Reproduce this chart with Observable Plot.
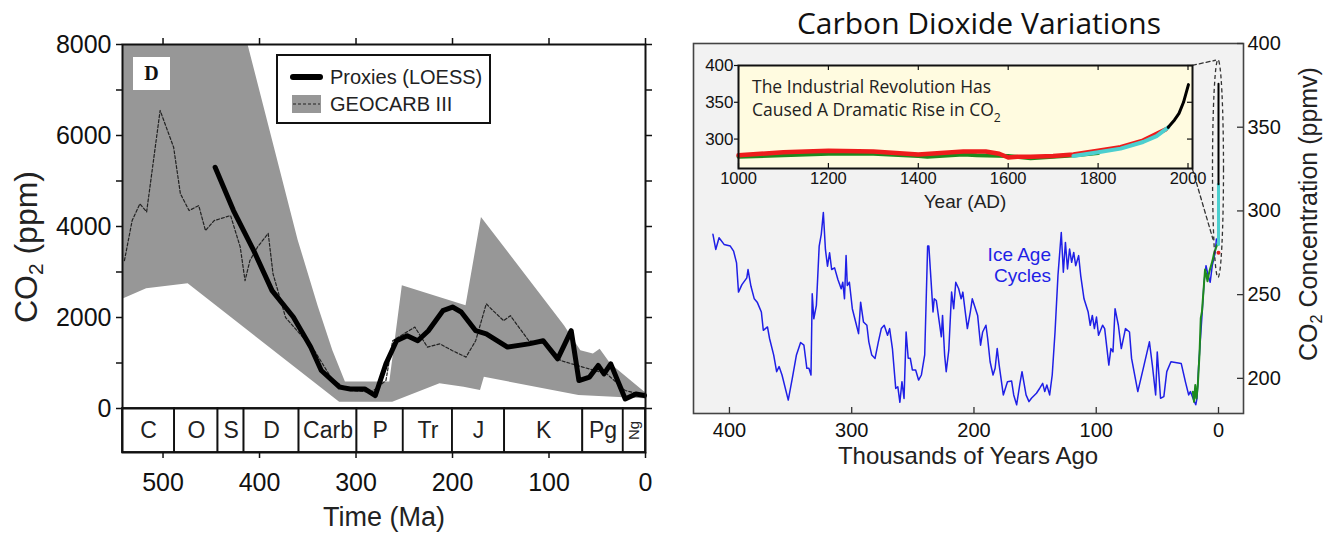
<!DOCTYPE html>
<html><head><meta charset="utf-8">
<script src="https://cdn.jsdelivr.net/npm/d3@7"></script>
<script src="https://cdn.jsdelivr.net/npm/@observablehq/plot@0.6"></script>
<style>
html,body{margin:0;padding:0;background:#fff;}
#page{position:relative;width:1329px;height:534px;overflow:hidden;font-family:"Liberation Sans",Arial,sans-serif;color:#111;}
.abs{position:absolute;white-space:nowrap;}
.rot{transform:translate(-50%,-50%) rotate(-90deg);}
.ctr{transform:translate(-50%,-50%);}
</style></head><body><div id="page"></div>
<script>
// ---------------- LEFT PANEL DATA (Ma, ppm) ----------------
const periodNames = ["C","O","S","D","Carb","P","Tr","J","K","Pg","Ng"];
const periodStart = [542,488,443,416,359,299,251,200,146,65,23];
const periodEnd   = [488,443,416,359,299,251,200,146,65,23,0];
const leftXTicks = [500,400,300,200,100,0];
const leftYTicks = [0,1000,2000,3000,4000,5000,6000,7000,8000];
const leftYLabels = [0,2000,4000,6000,8000];

const geocarbMa  = [540,532,524,517,503,489,482,473,463,456,447,430,420,415,410,402,391,386,373,343,324,306,284,269,262,239,226,213,200,186,176,165,158,147,140,121,102,88,65,40,21,1];
const geocarbPpm = [3250,4130,4500,4320,6550,5740,4720,4350,4460,3910,4130,4240,3550,2810,3250,3550,3850,2960,2000,1270,615,395,360,615,1490,1790,1350,1420,1270,1130,1490,2300,2150,1930,2040,1490,1420,1055,910,760,395,285];

const loessMa  = [446,427,406,387,365,347,336,317,306,291,280,269,258,247,236,225,210,200,191,176,165,143,121,106,91,77,69,58,49,43,36,21,10,1];
const loessPpm = [5300,4350,3470,2590,2010,1350,835,470,430,430,285,980,1490,1600,1490,1710,2150,2230,2120,1710,1640,1350,1420,1490,1090,1710,615,690,945,760,980,210,320,285];

// GEOCARB III error envelope, outline (upper edge left->right, lower edge right->left)
const bandMa  = [542,412,360,339,324,311,265,252,186,170,84,67,54,47,36,1,0, 0,1,69,167,171,188,213,262,317,474,517,542];
const bandPpm = [8000,8000,3700,2230,1270,580,580,2700,2260,4200,1820,1270,1200,1300,980,360,350, 200,212,285,688,395,469,542,139,139,2740,2630,2400];
const periodStripBottom = -967;

// ---------------- RIGHT PANEL DATA (kyr ago, ppmv) ----------------
const vostokKyr = [
413.5,411.2,408.5,404.4,399.3,396.6,394.2,392.6,389.8,385.8,
384.8,382.4,379.7,377.3,373.9,372.3,368.9,367.2,363.8,361.4,
359.4,357.0,351.9,348.6,345.2,341.8,339.1,336.7,335.0,333.3,
332.3,331.0,328.9,326.6,324.9,323.2,321.5,319.8,318.1,316.4,
314.0,311.3,308.6,307.3,305.9,304.6,303.6,301.9,299.5,296.1,
294.4,292.7,290.4,287.6,286.0,283.6,280.9,278.2,275.8,273.4,
270.7,269.0,266.7,264.0,262.3,260.6,258.9,257.2,255.5,253.8,
252.1,250.4,247.7,245.3,243.0,240.3,237.9,236.9,235.2,233.5,
232.5,230.8,228.4,226.7,225.7,224.0,222.7,220.6,218.3,216.6,
214.9,212.5,210.5,209.1,207.1,205.4,203.0,201.4,199.7,197.0,
194.6,192.9,190.2,188.8,186.8,184.4,182.7,181.0,179.4,176.0,
172.6,169.2,167.5,165.1,162.4,160.7,157.4,155.0,153.0,148.9,
146.2,143.8,142.1,140.4,138.1,136.0,133.7,131.3,128.6,126.9,
125.2,123.5,121.8,120.1,118.4,116.8,114.4,112.7,110.0,106.6,
104.9,103.2,101.5,99.8,98.1,94.8,93.1,89.7,88.0,86.3,
84.6,81.9,79.5,76.1,72.8,71.1,66.0,60.9,56.5,54.1,
51.4,50.1,47.4,44.7,42.3,38.9,30.5,27.1,24.4,23.0,
20.3,18.6,17.6,16.2,13.5,11.8,10.2,8.5,6.8,5.1,
2.7,1.7];
const vostokPpm = [
286,277,284,280,279,276,269,251.5,256,260,
265,255,247.5,245.5,239.6,228.7,230.7,223.8,213.9,204,
207,202,187,200,214,221.4,219.8,206,206,202,
250.5,235.6,243.6,279,286,299,277,267,275,265,
266,259,253.5,257.4,247.5,273.3,255.4,257.4,241.6,231.7,
226.7,245.5,233.7,231.7,221.8,213.9,211.9,221.8,229.7,231.7,
225.7,229.7,217.8,194,195,185.7,198,188,227.7,212,
212,205,205,199,202,214,279,279,259.4,239.6,
247.5,246.5,233.7,224.8,237.6,213.9,204,216.8,251.5,241.6,
257.4,253.5,247.5,251.5,239.6,229.7,239.6,247.5,243.6,237.6,
219.8,227.7,231.7,223.8,209.9,202,206,217.8,207.9,190.1,
198,198.4,190.1,184.2,197,204,190.1,186.1,188.1,191.1,
194.1,197,192.1,196,190.1,202,227.7,261.4,287.1,263.4,
281.2,265.3,277.2,269.3,275.2,267.3,273.3,261.4,247.5,239.6,
231.7,237.6,229.7,236.6,225.7,231.7,229.7,207.9,217.8,215.8,
241.6,231.7,217.8,229.7,227.7,211.9,192.1,207.9,221.8,207.9,
190.1,215.8,188.1,189.1,204,209.9,208.9,198,190.1,192.1,
187.1,184.2,188.1,207.9,237.6,257.4,267.3,261.4,257.4,267.3,
275.2,283.2];
const greenKyr = [21,20,19,18,17,15.5,14.5,13.5,12,11,10,9,8,7,5,3.5,2,1];
const greenPpm = [192,186,196,188,195,215,236,240,255,265,262,258,262,265,270,275,278,280];
const modernKyr = 0;
const modernCyanPpm = [280,316];
const modernBlackPpm = [316,376];
const modernRedDotPpm = 275;
const rightXTicks = [400,300,200,100,0];
const rightYTicks = [200,250,300,350,400];
const calloutEllipse = {kyr: 0, ppm: 325, rKyr: 4.5, rPpm: 65};
const calloutTop = [{kyr: 21.3, ppm: 387}, {kyr: 2.5, ppm: 390}];
const calloutBottom = [{kyr: 21.3, ppm: 325}, {kyr: 4.5, ppm: 283}];
const iceAgeLabel = {kyr: 137, ppm: 268, text: "Ice Age\nCycles"};

// ---------------- INSET DATA (year AD, ppmv) ----------------
const insetGreenYear = [1000,1100,1200,1300,1400,1420,1500,1530,1600,1650,1700,1750,1800];
const insetGreenPpm  = [276,278,280,280,277,276,279,278,277,274,276,278,281];
const insetRedYear = [1000,1100,1200,1300,1400,1450,1500,1550,1580,1600,1620,1650,1700,1745,1800,1850,1900,1950];
const insetRedPpm  = [278,282,284,283,279,281,283,283,280,275,276,276,277,279,284,289,298,313];
const insetCyanYear = [1745,1800,1850,1900,1930,1956];
const insetCyanPpm  = [277,282,287,296,304,316];
const insetBlackYear = [1956,1970,1980,1990,2001];
const insetBlackPpm  = [316,326,335,350,374];
const insetXTicks = [1000,1200,1400,1600,1800,2000];
const insetYTicks = [300,350,400];

// ---------------- helpers ----------------
const zip = (xs, ys, kx, ky) => xs.map((v, i) => ({[kx]: v, [ky]: ys[i]}));
const page = document.getElementById("page");
function place(node, left, top) {
  const d = document.createElement("div");
  d.className = "abs"; d.style.left = left + "px"; d.style.top = top + "px";
  d.appendChild(node); page.appendChild(d); return d;
}
function label(html, x, y, css, cls) {
  const d = document.createElement("div");
  d.className = "abs " + (cls || "ctr");
  d.style.left = x + "px"; d.style.top = y + "px";
  d.style.cssText += css;
  d.innerHTML = html; page.appendChild(d); return d;
}
const baseStyle = {background: "transparent", fontFamily: "'Liberation Sans', Arial, sans-serif", overflow: "visible"};

// ---------------- LEFT PLOT ----------------
const periods = periodNames.map((n, i) => ({name: n, start: periodStart[i], end: periodEnd[i], mid: (periodStart[i] + periodEnd[i]) / 2}));
const bandPts = zip(bandMa, bandPpm, "x", "y");
const bandMark = (index, scales) => {
  const line = d3.line().x(d => scales.x(d.x)).y(d => scales.y(d.y));
  return d3.create("svg:path").attr("d", line(bandPts) + "Z").attr("fill", "#979797").node();
};
const LW = 660, LH = 534, LT = 44, LB = 82;
const leftPlot = Plot.plot({
  width: LW, height: LH, marginLeft: 122, marginRight: 15, marginTop: LT, marginBottom: LB,
  x: {domain: [542, 0]},
  y: {domain: [periodStripBottom, 8000]},
  style: baseStyle,
  marks: [
    bandMark,
    Plot.rect(periods, {x1: "start", x2: "end", y1: 0, y2: periodStripBottom, fill: "white", stroke: "#111", strokeWidth: 1.8}),
    Plot.text(periods.filter(d => d.name !== "Ng"), {x: "mid", y: periodStripBottom / 2, text: "name", fontSize: 23, fill: "#222"}),
    Plot.text(periods.filter(d => d.name === "Ng"), {x: "mid", y: periodStripBottom / 2, text: "name", fontSize: 15, rotate: -90, fill: "#222"}),
    Plot.line(zip(geocarbMa, geocarbPpm, "x", "y"), {x: "x", y: "y", stroke: "#222", strokeWidth: 1.2, strokeDasharray: "3,2"}),
    Plot.line(zip(loessMa, loessPpm, "x", "y"), {x: "x", y: "y", stroke: "#000", strokeWidth: 5, strokeLinejoin: "round", strokeLinecap: "round"}),
    Plot.ruleY([0], {stroke: "#111", strokeWidth: 1.8}),
    Plot.frame({stroke: "#111", strokeWidth: 2}),
    Plot.axisY(leftYTicks, {anchor: "left", tickSize: 6, tickPadding: 5, fontSize: 25, strokeWidth: 1.5, tickFormat: d => leftYLabels.includes(d) ? String(d) : "", label: null}),
    Plot.axisY(leftYTicks, {anchor: "right", tickSize: 6, strokeWidth: 1.5, tickFormat: () => "", label: null}),
    Plot.axisX(leftXTicks, {anchor: "bottom", tickSize: 6, tickPadding: 15, fontSize: 25, strokeWidth: 1.5, tickFormat: d => String(d), label: null}),
    Plot.axisX(leftXTicks, {anchor: "top", tickSize: 7, strokeWidth: 1.5, tickFormat: () => "", label: null})
  ]
});
place(leftPlot, 0, 0);

// "D" panel tag
label("D", 133, 57, "width:37px;height:33px;background:#fff;font-family:'Liberation Serif','DejaVu Serif',serif;font-weight:bold;font-size:20px;line-height:33px;text-align:center;", " ");
// legend
const leg = document.createElement("div");
leg.className = "abs";
leg.style.cssText = "left:276px;top:54px;width:211px;height:66px;border:2px solid #111;background:#fff;";
leg.innerHTML = `<svg width="211" height="66" style="position:absolute;left:0;top:0">
  <line x1="15" x2="42" y1="21" y2="21" stroke="#000" stroke-width="6" stroke-linecap="round"/>
  <rect x="14" y="39" width="29" height="18" fill="#979797"/>
  <line x1="15" x2="42" y1="48" y2="48" stroke="#222" stroke-width="1.2" stroke-dasharray="3,2"/>
  <text x="52" y="28" font-size="20" fill="#222" font-family="Liberation Sans, Arial, sans-serif">Proxies (LOESS)</text>
  <text x="52" y="55" font-size="20" fill="#222" font-family="Liberation Sans, Arial, sans-serif">GEOCARB III</text></svg>`;
page.appendChild(leg);
label("CO<sub style='font-size:0.65em;vertical-align:-0.25em'>2</sub> (ppm)", 28, 247, "font-size:32px;color:#222;", "rot");
label("Time (Ma)", 384, 517, "font-size:27px;color:#222;");

// ---------------- RIGHT PLOT ----------------
const RW = 669, RH = 534, RML = 33, RMR = 86, RMT = 43, RMB = 121;
const rPlotW = RW - RML - RMR, rPlotH = RH - RMT - RMB;
const ellipseMark = (index, scales) => {
  const cx = scales.x(calloutEllipse.kyr), cy = scales.y(calloutEllipse.ppm);
  const rx = Math.abs(scales.x(calloutEllipse.kyr + calloutEllipse.rKyr) - cx);
  const ry = Math.abs(scales.y(calloutEllipse.ppm + calloutEllipse.rPpm) - cy);
  return d3.create("svg:ellipse").attr("cx", cx).attr("cy", cy).attr("rx", rx).attr("ry", ry)
    .attr("fill", "none").attr("stroke", "#333").attr("stroke-width", 1.3).attr("stroke-dasharray", "4,3").node();
};
const rightPlot = Plot.plot({
  width: RW, height: RH, marginLeft: RML, marginRight: RMR, marginTop: RMT, marginBottom: RMB,
  x: {domain: [429.4, -20.45]},
  y: {domain: [179, 400]},
  style: baseStyle,
  marks: [
    Plot.frame({fill: "#f2f2f2", stroke: "none"}),
    Plot.line(zip(vostokKyr, vostokPpm, "x", "y"), {x: "x", y: "y", stroke: "#1f1fe6", strokeWidth: 1.5}),
    Plot.line(zip(greenKyr, greenPpm, "x", "y"), {x: "x", y: "y", stroke: "#1d8a1d", strokeWidth: 2}),
    Plot.line(modernCyanPpm.map(p => ({x: modernKyr, y: p})), {x: "x", y: "y", stroke: "#4ccfcf", strokeWidth: 3}),
    Plot.line(modernBlackPpm.map(p => ({x: modernKyr, y: p})), {x: "x", y: "y", stroke: "#000", strokeWidth: 2}),
    Plot.dot([{x: modernKyr, y: modernRedDotPpm}], {x: "x", y: "y", r: 2, fill: "#e02020"}),
    ellipseMark,
    Plot.line(calloutTop, {x: "kyr", y: "ppm", stroke: "#333", strokeWidth: 1.3, strokeDasharray: "4,3"}),
    Plot.line(calloutBottom, {x: "kyr", y: "ppm", stroke: "#333", strokeWidth: 1.3, strokeDasharray: "4,3"}),
    Plot.text([iceAgeLabel], {x: "kyr", y: "ppm", text: "text", textAnchor: "end", fontSize: 19, lineHeight: 1.15, fill: "#1f1fe6"}),
    Plot.frame({stroke: "#444", strokeWidth: 1.6}),
    Plot.ruleX(rightXTicks, {insetTop: rPlotH - 6, stroke: "#333", strokeWidth: 1.3}),
    Plot.ruleY(rightYTicks, {insetLeft: rPlotW - 6, stroke: "#333", strokeWidth: 1.3}),
    Plot.axisX(rightXTicks, {anchor: "bottom", tickSize: 0, tickPadding: 9, fontSize: 20, tickFormat: d => String(d), label: null}),
    Plot.axisY(rightYTicks, {anchor: "right", tickSize: 0, tickPadding: 4, fontSize: 20, tickFormat: d => String(d), label: null})
  ]
});
place(rightPlot, 660, 0);

// ---------------- INSET ----------------
const IW = 560, IH = 180, IML = 48, IMR = 58, IMT = 25, IMB = 52;
const iPlotW = IW - IML - IMR, iPlotH = IH - IMT - IMB;
const insetPlot = Plot.plot({
  width: IW, height: IH, marginLeft: IML, marginRight: IMR, marginTop: IMT, marginBottom: IMB,
  x: {domain: [1000, 2010]},
  y: {domain: [260, 400]},
  style: baseStyle,
  marks: [
    Plot.frame({fill: "#fffbe0", stroke: "none"}),
    Plot.line(zip(insetGreenYear, insetGreenPpm, "x", "y"), {x: "x", y: "y", stroke: "#1d8a1d", strokeWidth: 4}),
    Plot.line(zip(insetRedYear, insetRedPpm, "x", "y"), {x: "x", y: "y", stroke: "#ee1c1c", strokeWidth: 4.5}),
    Plot.line(zip(insetCyanYear, insetCyanPpm, "x", "y"), {x: "x", y: "y", stroke: "#4ccfcf", strokeWidth: 4}),
    Plot.line(zip(insetBlackYear, insetBlackPpm, "x", "y"), {x: "x", y: "y", stroke: "#000", strokeWidth: 3}),
    Plot.frame({stroke: "#111", strokeWidth: 2}),
    Plot.ruleX(insetXTicks, {insetTop: iPlotH - 5, stroke: "#111", strokeWidth: 1.2}),
    Plot.ruleX(insetXTicks, {insetBottom: iPlotH - 5, stroke: "#111", strokeWidth: 1.2}),
    Plot.ruleY(insetYTicks, {insetLeft: iPlotW - 5, stroke: "#111", strokeWidth: 1.2}),
    Plot.axisY(insetYTicks, {anchor: "left", tickSize: 4, tickPadding: 1, fontSize: 17, strokeWidth: 1.2, tickFormat: d => String(d), label: null}),
    Plot.axisX(insetXTicks, {anchor: "bottom", tickSize: 0, tickPadding: 4, fontSize: 16.5, tickFormat: d => String(d), label: null})
  ]
});
place(insetPlot, 690, 40);
label("The Industrial Revolution Has", 752, 86, "font-family:'Open Sans',sans-serif;font-size:17.5px;line-height:23px;color:#222;transform:translateY(-50%);", " ");
label("Caused A Dramatic Rise in CO<sub style='font-size:0.7em;vertical-align:-0.5em;line-height:0'>2</sub>", 752, 109, "font-family:'Open Sans',sans-serif;font-size:17.5px;line-height:23px;color:#222;transform:translateY(-50%);", " ");
label("Year (AD)", 965, 202, "font-size:19px;color:#222;");
label("Carbon Dioxide Variations", 979, 22, "font-family:'Open Sans',sans-serif;font-size:30px;color:#111;");
label("Thousands of Years Ago", 968, 456, "font-size:24px;color:#222;");
label("CO<sub style='font-size:0.65em;vertical-align:-0.25em'>2</sub> Concentration (ppmv)", 1310, 214, "font-size:25px;color:#222;", "rot");
</script></body></html>
